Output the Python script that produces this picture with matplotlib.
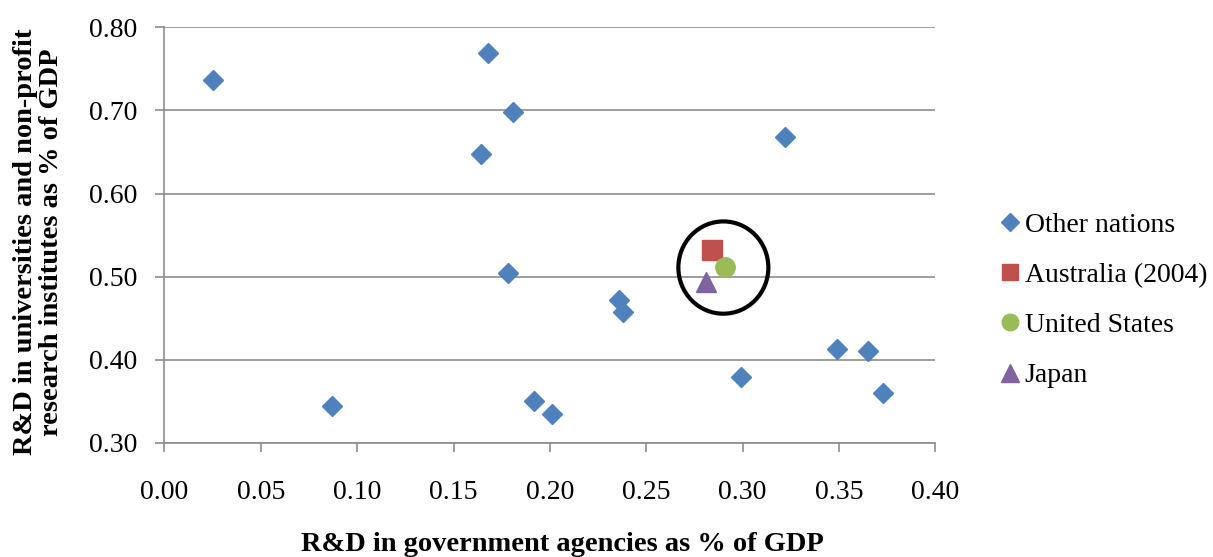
import matplotlib
matplotlib.use("Agg")
import matplotlib.pyplot as plt
from matplotlib.patches import Ellipse

# R&D spending, % of GDP
other_gov = [0.025, 0.087, 0.164, 0.168, 0.178, 0.181, 0.192, 0.201,
             0.236, 0.238, 0.299, 0.322, 0.349, 0.365, 0.373]
other_uni = [0.737, 0.344, 0.647, 0.769, 0.505, 0.698, 0.351, 0.335,
             0.472, 0.457, 0.379, 0.668, 0.413, 0.411, 0.360]

australia_gov = [0.284]
australia_uni = [0.532]
us_gov = [0.291]
us_uni = [0.512]
japan_gov = [0.281]
japan_uni = [0.494]

series_labels = ["Other nations", "Australia (2004)", "United States", "Japan"]
x_ticks = [0.00, 0.05, 0.10, 0.15, 0.20, 0.25, 0.30, 0.35, 0.40]
y_ticks = [0.30, 0.40, 0.50, 0.60, 0.70, 0.80]

plt.rcParams["font.family"] = ["Liberation Serif", "DejaVu Serif"]

fig = plt.figure(figsize=(12.13, 5.57), dpi=100)
ax = fig.add_axes([0.1356, 0.2047, 0.6355, 0.7463])

blue, red, green, purple = "#4F81BD", "#C0504D", "#9BBB59", "#8064A2"

ax.plot(other_gov, other_uni, linestyle="none", marker="D", markersize=10.5,
        color=blue, label=series_labels[0], zorder=3)
ax.plot(australia_gov, australia_uni, linestyle="none", marker="s", markersize=14,
        color=red, label=series_labels[1], zorder=3)
ax.plot(us_gov, us_uni, linestyle="none", marker="o", markersize=14,
        color=green, label=series_labels[2], zorder=4)
ax.plot(japan_gov, japan_uni, linestyle="none", marker="^", markersize=15,
        color=purple, label=series_labels[3], zorder=3)

# Highlight ring around Australia, US and Japan
ring = Ellipse((0.290, 0.511), width=0.0467, height=0.111, fill=False,
               edgecolor="black", linewidth=3.0, zorder=5)
ax.add_patch(ring)

ax.set_xlim(0.0, 0.40)
ax.set_ylim(0.30, 0.80)
ax.set_xticks(x_ticks)
ax.set_yticks(y_ticks)
ax.set_xticklabels([f"{v:.2f}" for v in x_ticks], fontsize=20)
ax.set_yticklabels([f"{v:.2f}" for v in y_ticks], fontsize=20)

grid_color = "#8C8C8C"
ax.grid(axis="y", color=grid_color, linewidth=1.2)
ax.set_axisbelow(True)
for side in ("top", "right"):
    ax.spines[side].set_visible(False)
for side in ("left", "bottom"):
    ax.spines[side].set_color(grid_color)
    ax.spines[side].set_linewidth(1.2)
ax.tick_params(axis="both", direction="out", length=6.5, width=1.2,
               color=grid_color)
ax.tick_params(axis="x", pad=20)
ax.tick_params(axis="y", pad=13)

ax.set_xlabel("R&D in government agencies as % of GDP", fontsize=20.5,
              fontweight="bold", va="center")
ax.xaxis.set_label_coords(0.5156, -0.245)
ax.set_ylabel("R&D in universities and non-profit\nresearch institutes as % of GDP",
              fontsize=20.5, fontweight="bold", linespacing=1.05,
              va="center", ha="center")
ax.yaxis.set_label_coords(-0.164, 0.4835)

leg = ax.legend(loc="center left", bbox_to_anchor=(1.071, 0.343), frameon=False,
                fontsize=20, markerscale=0.85, handlelength=0.65, handletextpad=0.2,
                labelspacing=0.89, borderaxespad=0)

fig.savefig("out.png", dpi=100)
